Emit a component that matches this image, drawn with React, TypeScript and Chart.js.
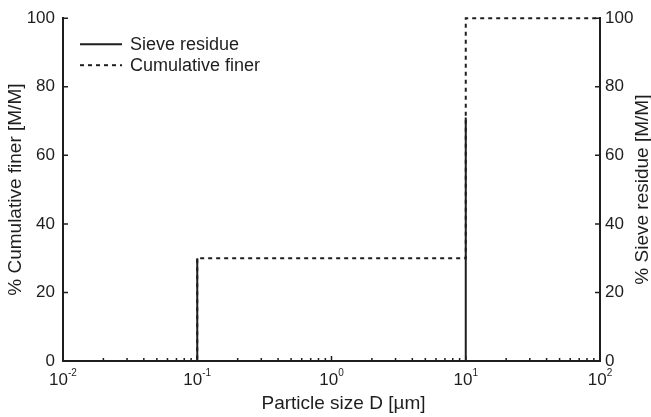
import { useEffect, useRef } from 'react';
import { Chart, registerables } from 'chart.js';

Chart.register(...registerables);

// ---- data ----
const seriesLabels = ['Sieve residue', 'Cumulative finer'];
const sieveSizes = [0.1, 10];
const sieveResidue = [30, 71];
const finerSizes = [0.01, 0.1, 10, 100];
const cumulativeFiner = [0, 30, 100, 100];
const xDecades = [0.01, 0.1, 1, 10, 100];
const xDecadeExponents = ['-2', '-1', '0', '1', '2'];
const yTicks = [0, 20, 40, 60, 80, 100];
const xTitle = 'Particle size D [µm]';
const yLeftTitle = '% Cumulative finer [M/M]';
const yRightTitle = '% Sieve residue [M/M]';

const INK = '#1e1e1e';
const FONT = '"Liberation Sans", Arial, Helvetica, sans-serif';

const decorPlugin = {
  id: 'decor',
  afterDraw(chart: any) {
    const { ctx, chartArea: a, scales } = chart;
    const x = scales.x;
    const y = scales.y;
    const y1 = scales.y1;
    ctx.save();
    // inward tick marks
    ctx.strokeStyle = INK;
    ctx.lineWidth = 1.5;
    ctx.beginPath();
    yTicks.forEach((v) => {
      const py = y.getPixelForValue(v);
      ctx.moveTo(a.left, py);
      ctx.lineTo(a.left + 5, py);
      const py1 = y1.getPixelForValue(v);
      ctx.moveTo(a.right, py1);
      ctx.lineTo(a.right - 5, py1);
    });
    xDecades.forEach((d, i) => {
      const px = x.getPixelForValue(d);
      ctx.moveTo(px, a.bottom);
      ctx.lineTo(px, a.bottom - 5);
      if (i < xDecades.length - 1) {
        for (let m = 2; m <= 9; m++) {
          const pm = x.getPixelForValue(d * m);
          ctx.moveTo(pm, a.bottom);
          ctx.lineTo(pm, a.bottom - 3);
        }
      }
    });
    ctx.stroke();

    // x tick labels with superscript exponents
    ctx.fillStyle = INK;
    ctx.textBaseline = 'alphabetic';
    ctx.textAlign = 'left';
    xDecades.forEach((d, i) => {
      const px = x.getPixelForValue(d);
      ctx.font = `17px ${FONT}`;
      const wBase = ctx.measureText('10').width;
      ctx.font = `10px ${FONT}`;
      const wSup = ctx.measureText(xDecadeExponents[i]).width;
      const start = px - (wBase + wSup) / 2;
      ctx.font = `17px ${FONT}`;
      ctx.fillText('10', start, a.bottom + 24);
      ctx.font = `10px ${FONT}`;
      ctx.fillText(xDecadeExponents[i], start + wBase, a.bottom + 15);
    });

    // x axis title
    ctx.font = `19px ${FONT}`;
    ctx.textAlign = 'center';
    ctx.textBaseline = 'middle';
    ctx.fillText(xTitle, (a.left + a.right) / 2 + 12, a.bottom + 43);

    // right axis title (reads bottom to top)
    ctx.save();
    ctx.translate(chart.width - 8, (a.top + a.bottom) / 2);
    ctx.rotate(-Math.PI / 2);
    ctx.fillText(yRightTitle, 0, 0);
    ctx.restore();

    // legend inside the plot
    const datasets = chart.data.datasets;
    datasets.forEach((ds: any, i: number) => {
      const ly = a.top + 26 + i * 21;
      ctx.beginPath();
      ctx.strokeStyle = ds.borderColor;
      ctx.lineWidth = ds.borderWidth;
      ctx.setLineDash(ds.borderDash || []);
      ctx.moveTo(a.left + 17, ly);
      ctx.lineTo(a.left + 59, ly);
      ctx.stroke();
      ctx.setLineDash([]);
      ctx.fillStyle = INK;
      ctx.font = `18px ${FONT}`;
      ctx.textAlign = 'left';
      ctx.textBaseline = 'middle';
      ctx.fillText(ds.label, a.left + 67, ly + 1);
    });
    ctx.restore();
  },
};

export default function App() {
  const ref = useRef<HTMLCanvasElement | null>(null);
  useEffect(() => {
    if (!ref.current) return;
    Chart.defaults.font.family = FONT;
    const residuePoints = sieveSizes.flatMap((s, i) => [
      { x: s, y: 0 },
      { x: s, y: sieveResidue[i] },
      { x: s, y: null },
    ]);
    const finerPoints = finerSizes.map((s, i) => ({ x: s, y: cumulativeFiner[i] }));
    const chart = new Chart(ref.current, {
      type: 'line',
      data: {
        datasets: [
          {
            label: seriesLabels[0],
            data: residuePoints as any,
            yAxisID: 'y1',
            borderColor: INK,
            borderWidth: 2,
            pointRadius: 0,
            spanGaps: false,
            clip: false as any,
            order: 0,
          },
          {
            label: seriesLabels[1],
            data: finerPoints,
            yAxisID: 'y',
            borderColor: INK,
            borderWidth: 2,
            borderDash: [4, 4],
            stepped: 'before',
            pointRadius: 0,
            clip: false as any,
            order: 1,
          },
        ],
      },
      options: {
        responsive: false,
        animation: false,
        layout: { padding: { top: 15, left: 0, right: 0, bottom: 0 } },
        plugins: { legend: { display: false }, tooltip: { enabled: false } },
        scales: {
          x: {
            type: 'logarithmic',
            min: 0.01,
            max: 100,
            grid: { display: false, drawTicks: false },
            border: { display: true, color: INK, width: 2 },
            ticks: { display: false },
            afterFit: (s: any) => {
              s.height = 56;
            },
          },
          y: {
            type: 'linear',
            position: 'left',
            min: 0,
            max: 100,
            grid: { display: false, drawTicks: false },
            border: { display: true, color: INK, width: 2 },
            ticks: {
              stepSize: 20,
              padding: 8,
              color: INK,
              font: { size: 17, family: FONT },
            },
            title: {
              display: true,
              text: yLeftTitle,
              color: INK,
              font: { size: 19, family: FONT },
              padding: { top: 4, bottom: 0 },
            },
            afterFit: (s: any) => {
              s.width = 63;
            },
          },
          y1: {
            type: 'linear',
            position: 'right',
            min: 0,
            max: 100,
            grid: { display: false, drawTicks: false },
            border: { display: true, color: INK, width: 2 },
            ticks: {
              stepSize: 20,
              padding: 5,
              color: INK,
              font: { size: 17, family: FONT },
            },
            afterFit: (s: any) => {
              s.width = 51;
            },
          },
        },
      },
      plugins: [decorPlugin],
    });
    return () => chart.destroy();
  }, []);
  return (
    <div style={{ position: 'absolute', left: 0, top: 0, width: 651, height: 417 }}>
      <canvas ref={ref} width={651} height={417} style={{ display: 'block' }} />
    </div>
  );
}
